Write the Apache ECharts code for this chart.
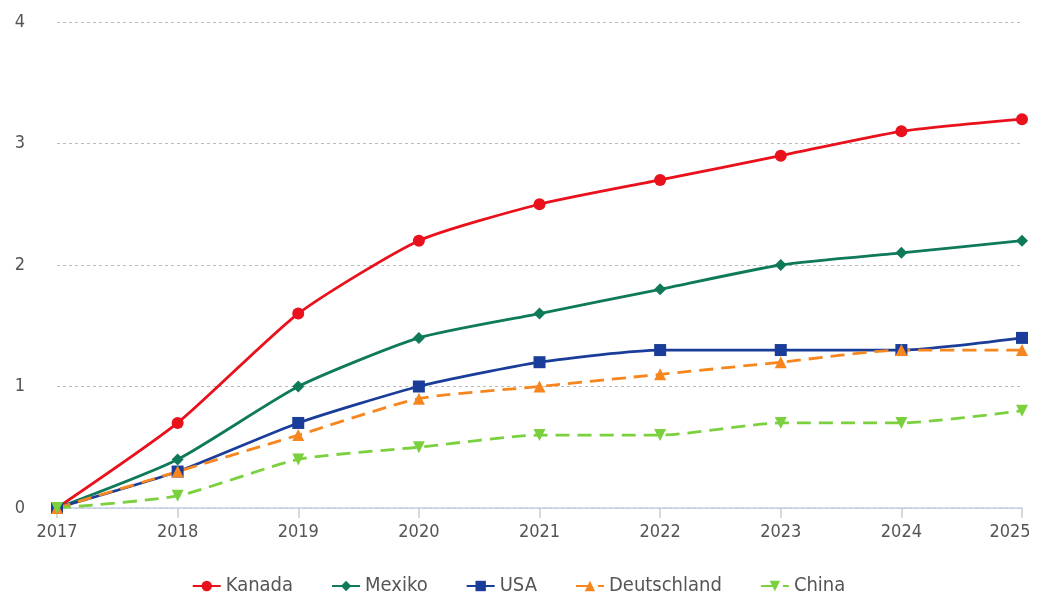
<!DOCTYPE html>
<html><head><meta charset="utf-8">
<script src="https://cdn.jsdelivr.net/npm/echarts@6/dist/echarts.min.js"></script>
<style>html,body{margin:0;padding:0;background:#fff}#c{width:1037px;height:597px}</style>
</head><body><div id="c"></div>
<script>
const years = ['2017','2018','2019','2020','2021','2022','2023','2024','2025'];
const yTicks = [0,1,2,3,4];
const kanada = [0, 0.7, 1.6, 2.2, 2.5, 2.7, 2.9, 3.1, 3.2];
const mexiko = [0, 0.4, 1.0, 1.4, 1.6, 1.8, 2.0, 2.1, 2.2];
const usa = [0, 0.3, 0.7, 1.0, 1.2, 1.3, 1.3, 1.3, 1.4];
const deutschland = [0, 0.3, 0.6, 0.9, 1.0, 1.1, 1.2, 1.3, 1.3];
const china = [0, 0.1, 0.4, 0.5, 0.6, 0.6, 0.7, 0.7, 0.8];

const font = '"DejaVu Sans Condensed", "Roboto", sans-serif';
function s(name, data, color, symbol, dashed, size, rot) {
  return {
    name, type: 'line', data, smooth: 0.2,
    symbol, symbolSize: size, symbolRotate: rot || 0,
    itemStyle: { color },
    lineStyle: { color, width: 2.8, type: dashed ? [14, 8] : 'solid' },
    emphasis: { disabled: true }
  };
}
const chart = echarts.init(document.getElementById('c'));
chart.setOption({
  animation: false,
  grid: { left: 57, right: 15, top: 22, bottom: 89, outerBoundsMode: 'none' },
  legend: {
    bottom: -4, left: 'center', itemGap: 38, itemWidth: 28, itemHeight: 13,
    textStyle: { fontFamily: font, fontSize: 20, color: '#555' },
    data: ['Kanada','Mexiko','USA','Deutschland','China']
  },
  xAxis: {
    type: 'category', data: years, boundaryGap: false,
    axisLine: { lineStyle: { color: '#c6cfe6', width: 1.5 } },
    axisTick: { show: true, alignWithLabel: true, interval: 0, length: 10, lineStyle: { color: '#ccc', width: 1.5 } },
    axisLabel: { fontFamily: font, fontSize: 18, color: '#555', margin: 15, interval: 0, hideOverlap: false,
      formatter: v => v === years[years.length - 1] ? '{last|' + v + '}' : v,
      rich: { last: { fontFamily: font, fontSize: 18, color: '#555', padding: [0, 24, 0, 0] } } }
  },
  yAxis: {
    type: 'value', min: 0, max: 4, interval: 1,
    axisLine: { show: false }, axisTick: { show: false },
    axisLabel: { fontFamily: font, fontSize: 18, color: '#555', margin: 32,
      formatter: v => yTicks.includes(v) ? String(v) : '' },
    splitLine: { lineStyle: { color: '#bbb', type: [3, 3], width: 1 } }
  },
  series: [
    s('Kanada', kanada, '#e8111c', 'circle', false, 12),
    s('Mexiko', mexiko, '#0f7a5a', 'diamond', false, 12),
    s('USA', usa, '#1a3d99', 'rect', false, 12),
    s('Deutschland', deutschland, '#f7861e', 'triangle', true, 12),
    s('China', china, '#7ad13d', 'triangle', true, 12, 180)
  ]
});
</script></body></html>
